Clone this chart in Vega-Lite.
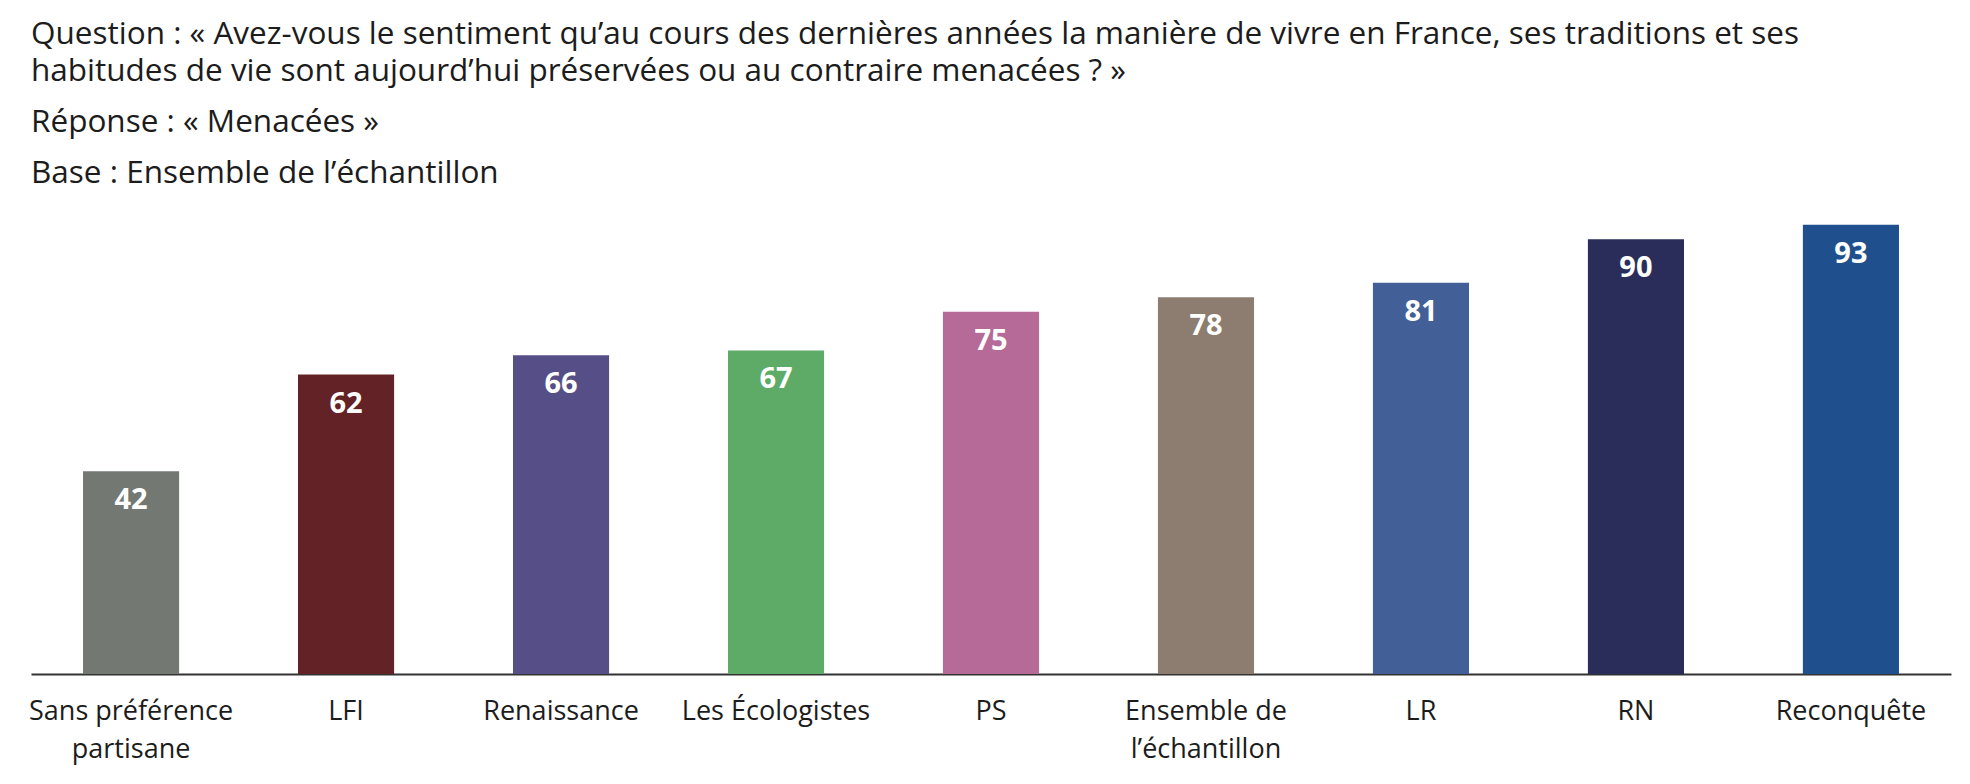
{
  "$schema": "https://vega.github.io/schema/vega-lite/v6.json",
  "width": 1920,
  "height": 483,
  "autosize": {"type": "none"},
  "padding": {"left": 31, "top": 191, "right": 19, "bottom": 110},
  "background": "white",
  "title": {
    "text": [
      "Question : « Avez-vous le sentiment qu’au cours des dernières années la manière de vivre en France, ses traditions et ses",
      "habitudes de vie sont aujourd’hui préservées ou au contraire menacées ? »"
    ],
    "subtitle": ["Réponse : « Menacées »", "Base : Ensemble de l’échantillon"],
    "anchor": "start",
    "frame": "group",
    "orient": "top",
    "offset": 2,
    "font": "Open Sans",
    "fontSize": 31.5,
    "fontWeight": "normal",
    "lineHeight": 37,
    "color": "#1c1c1c",
    "subtitleFont": "Open Sans",
    "subtitleFontSize": 31.5,
    "subtitleFontWeight": "normal",
    "subtitleLineHeight": 51,
    "subtitleColor": "#1c1c1c",
    "subtitlePadding": 19
  },
  "data": {
    "values": [
      {"parti": "Sans préférence partisane", "menacees": 42},
      {"parti": "LFI", "menacees": 62},
      {"parti": "Renaissance", "menacees": 66},
      {"parti": "Les Écologistes", "menacees": 67},
      {"parti": "PS", "menacees": 75},
      {"parti": "Ensemble de l’échantillon", "menacees": 78},
      {"parti": "LR", "menacees": 81},
      {"parti": "RN", "menacees": 90},
      {"parti": "Reconquête", "menacees": 93}
    ]
  },
  "encoding": {
    "x": {
      "field": "parti",
      "type": "nominal",
      "sort": null,
      "scale": {"paddingInner": 0.553, "paddingOuter": 0.242},
      "axis": {
        "title": null,
        "labelAngle": 0,
        "ticks": false,
        "domainColor": "#333333",
        "domainWidth": 2,
        "labelFont": "Open Sans",
        "labelFontSize": 27,
        "labelColor": "#1c1c1c",
        "labelPadding": 24,
        "labelLineHeight": 38,
        "labelLimit": 400,
        "labelExpr": "datum.value == 'Sans préférence partisane' ? ['Sans préférence', 'partisane'] : datum.value == 'Ensemble de l’échantillon' ? ['Ensemble de', 'l’échantillon'] : datum.value"
      }
    },
    "y": {
      "field": "menacees",
      "type": "quantitative",
      "scale": {"domain": [0, 100]},
      "axis": null
    }
  },
  "layer": [
    {
      "mark": {"type": "bar"},
      "encoding": {
        "color": {
          "field": "parti",
          "type": "nominal",
          "legend": null,
          "scale": {
            "domain": ["Sans préférence partisane", "LFI", "Renaissance", "Les Écologistes", "PS", "Ensemble de l’échantillon", "LR", "RN", "Reconquête"],
            "range": ["#737873", "#632225", "#564f87", "#5dab67", "#b56a98", "#8c7d70", "#425f97", "#2a2d5a", "#1f4f8d"]
          }
        }
      }
    },
    {
      "mark": {
        "type": "text",
        "baseline": "middle",
        "dy": 29,
        "font": "Open Sans",
        "fontSize": 29,
        "fontWeight": "bold",
        "color": "white"
      },
      "encoding": {
        "text": {"field": "menacees", "type": "quantitative"}
      }
    }
  ],
  "config": {
    "view": {"stroke": null}
  }
}
